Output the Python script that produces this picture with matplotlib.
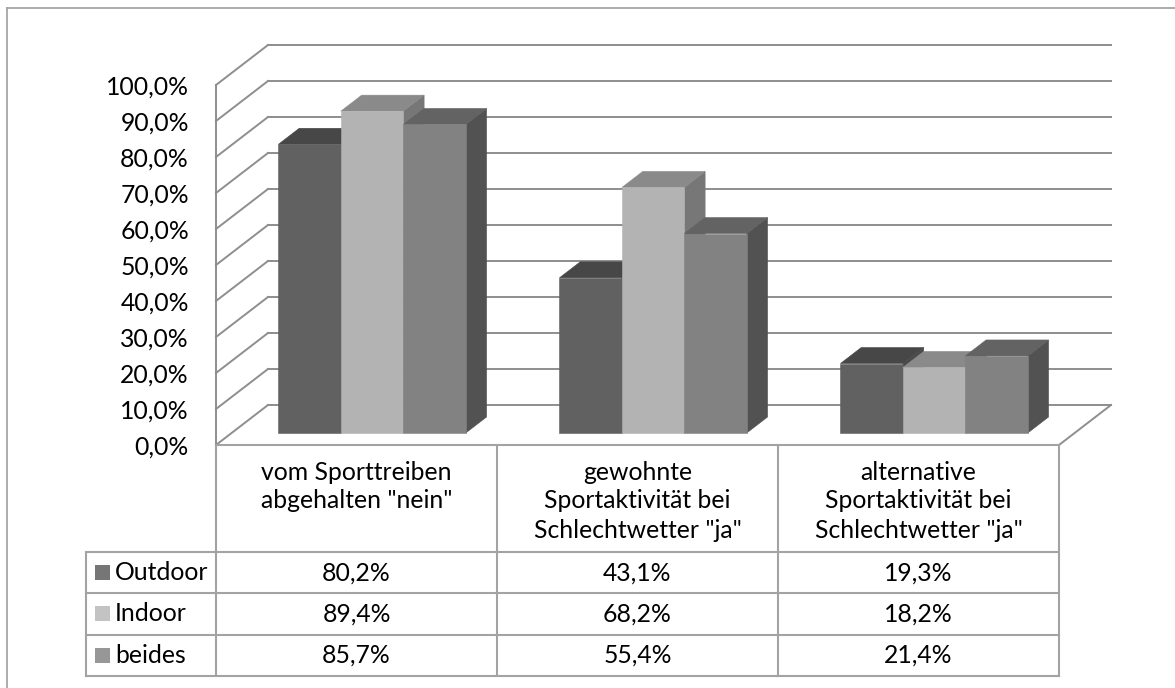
import matplotlib
matplotlib.use("Agg")
import matplotlib.pyplot as plt
from matplotlib.patches import Polygon
from matplotlib.transforms import Affine2D, blended_transform_factory

# ---- data ----
categories = [
    ["vom Sporttreiben", "abgehalten \"nein\""],
    ["gewohnte", "Sportaktivität bei", "Schlechtwetter \"ja\""],
    ["alternative", "Sportaktivität bei", "Schlechtwetter \"ja\""],
]
series_names = ["Outdoor", "Indoor", "beides"]
outdoor = [80.2, 43.1, 19.3]
indoor = [89.4, 68.2, 18.2]
beides = [85.7, 55.4, 21.4]
y_ticks = [0, 10, 20, 30, 40, 50, 60, 70, 80, 90, 100]

values = [outdoor, indoor, beides]

# ---- styling ----
plt.rcParams["font.family"] = ["Lato", "DejaVu Sans"]
FS = 17.8
W, H = 1175, 688
face_front = ["#616161", "#b3b3b3", "#828282"]
face_top = ["#474747", "#8a8a8a", "#636363"]
face_side = ["#4b4b4b", "#777777", "#525252"]
legend_col = ["#767676", "#c3c3c3", "#979797"]
grid_col = "#8e8e8e"
table_col = "#a3a3a3"

fig = plt.figure(figsize=(W / 100, H / 100), dpi=100)
fig.patch.set_facecolor("white")

# pixel transform for the outer frame and the data table
pix = Affine2D().scale(1 / W, -1 / H).translate(0, 1) + fig.transFigure

# front plane of the 3-D plot
left, right, bottom, top = 216, 1059, 445, 85
ax = fig.add_axes([left / W, 1 - bottom / H, (right - left) / W, (bottom - top) / H])
ax.set_xlim(-0.5, len(categories) - 0.5)
ax.set_ylim(0, 100)
for s in ax.spines.values():
    s.set_visible(False)
ax.set_xticks([])
ax.set_yticks(y_ticks)
ax.set_yticklabels([f"{t:.1f}".replace(".", ",") + "%" for t in y_ticks], fontsize=FS)
ax.tick_params(axis="y", length=0, pad=19.5)
ax.patch.set_visible(False)

# oblique depth projection (full depth in data units)
DX = 52 / (right - left) * len(categories)
DY = 40 / (bottom - top) * 100


def proj(x, y, d):
    return (x + d * DX, y + d * DY)


x_lo, x_hi = -0.5, len(categories) - 0.5
glw = 1.4
# back wall gridlines and left wall diagonals
for v in y_ticks:
    p0, p1 = proj(x_lo, v, 1), proj(x_hi, v, 1)
    ax.plot([p0[0], p1[0]], [p0[1], p1[1]], color=grid_col, lw=glw, clip_on=False, zorder=1)
    q0, q1 = proj(x_lo, v, 0), proj(x_lo, v, 1)
    ax.plot([q0[0], q1[0]], [q0[1], q1[1]], color=grid_col, lw=glw, clip_on=False, zorder=1)
ax.plot([x_lo, x_lo], [0, 100], color=grid_col, lw=glw, clip_on=False, zorder=1)
f0, f1 = proj(x_hi, 0, 0), proj(x_hi, 0, 1)
ax.plot([f0[0], f1[0]], [f0[1], f1[1]], color=grid_col, lw=glw, clip_on=False, zorder=1)

# bars
n = len(series_names)
bw = 1 / (n + 1.5)
d0, d1 = 0.3, 0.7
z = 3
for c in range(len(categories)):
    for i in range(n):
        h = values[i][c]
        x0 = c - n * bw / 2 + i * bw
        x1 = x0 + bw
        side = [proj(x1, 0, d0), proj(x1, 0, d1), proj(x1, h, d1), proj(x1, h, d0)]
        topf = [proj(x0, h, d0), proj(x1, h, d0), proj(x1, h, d1), proj(x0, h, d1)]
        front = [proj(x0, 0, d0), proj(x1, 0, d0), proj(x1, h, d0), proj(x0, h, d0)]
        for pts, col in ((side, face_side[i]), (topf, face_top[i]), (front, face_front[i])):
            ax.add_patch(Polygon(pts, closed=True, facecolor=col, edgecolor=col,
                                 lw=0.4, clip_on=False, zorder=z))
            z += 1

# outer frame
fig.add_artist(plt.Line2D([7, 7], [8, H + 5], transform=pix, color="#a6a6a6", lw=1.3))
fig.add_artist(plt.Line2D([7, W + 5], [8, 8], transform=pix, color="#a6a6a6", lw=1.3))

# data table
colx = blended_transform_factory(ax.transData, pix)
tlw = 1.5
hdr_top, row_top, row_h = 445, 552, 41.3
rows_bottom = row_top + row_h * n
leg_left = 86
fig.add_artist(plt.Line2D([left, right], [hdr_top, hdr_top], transform=pix, color=table_col, lw=tlw))
for r in range(n + 1):
    y = row_top + r * row_h
    fig.add_artist(plt.Line2D([leg_left, right], [y, y], transform=pix, color=table_col, lw=tlw))
fig.add_artist(plt.Line2D([leg_left, leg_left], [row_top, rows_bottom], transform=pix,
                          color=table_col, lw=tlw))
for c in range(len(categories) + 1):
    fig.add_artist(plt.Line2D([c - 0.5, c - 0.5], [hdr_top, rows_bottom], transform=colx,
                              color=table_col, lw=tlw))

for c, lines in enumerate(categories):
    for k, line in enumerate(lines):
        fig.text(c, 472 + 29 * k, line, transform=colx, ha="center", va="center", fontsize=FS)

for r, name in enumerate(series_names):
    yc = row_top + row_h * (r + 0.5)
    fig.add_artist(plt.Rectangle((95, yc - 7.5), 15, 15, transform=pix,
                                 facecolor=legend_col[r], edgecolor="none"))
    fig.text(115, yc, name, transform=pix, ha="left", va="center", fontsize=FS)
    for c in range(len(categories)):
        fig.text(c, yc, f"{values[r][c]:.1f}".replace(".", ",") + "%", transform=colx,
                 ha="center", va="center", fontsize=FS)

fig.savefig("out.png", dpi=100, facecolor="white")
